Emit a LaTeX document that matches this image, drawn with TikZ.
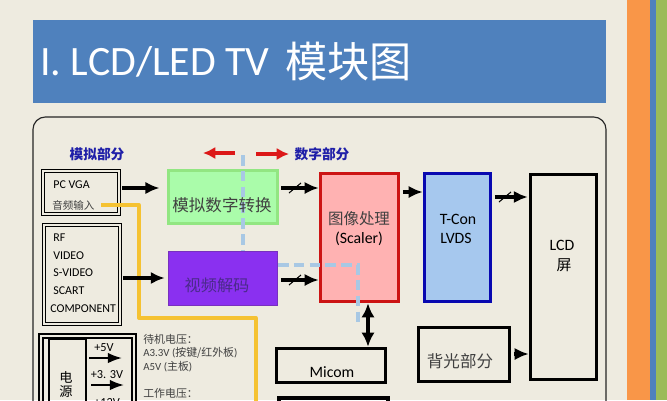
\documentclass[tikz,border=0pt]{standalone}
\usepackage{fontspec}
\setmainfont{Carlito}
\newfontfamily\cjk{Noto Sans CJK SC}
\usetikzlibrary{arrows.meta}
\definecolor{paper}{HTML}{EEEBE0}
\definecolor{band}{HTML}{4F81BD}
\definecolor{partblue}{HTML}{1F1FA8}
\definecolor{cable}{HTML}{F5C232}
\definecolor{busdash}{HTML}{A8C8E4}
\definecolor{striporange}{HTML}{F99648}
\definecolor{stripgreen}{HTML}{9BBB59}
\definecolor{adcfill}{HTML}{AAFCAA}
\definecolor{adcline}{HTML}{92E682}
\definecolor{decfill}{HTML}{8A30F0}
\definecolor{decline}{HTML}{7830BE}
\definecolor{dectext}{HTML}{4A2A8A}
\definecolor{scalerfill}{HTML}{FFB2B2}
\definecolor{scalerline}{HTML}{CC1414}
\definecolor{tconfill}{HTML}{A6C8EE}
\definecolor{tconline}{HTML}{0808B0}
\definecolor{redarrow}{HTML}{DC1818}
\tikzstyle{dblbox}=[draw, double=paper, double distance=1.1pt, line width=.85pt, inner sep=0pt]
\tikzstyle{block}=[draw, line width=2pt, inner sep=0pt]
\tikzstyle{flow} = [draw, line width=1.8pt, -{Latex[length=8pt,width=7pt]}]
\tikzstyle{slash} = [draw, line width=.6pt]
\tikzstyle{bus} = [draw, busdash, line width=1.9pt, dash pattern=on 6pt off 3pt]

\begin{document}
\begin{tikzpicture}[x=0.02cm, y=-0.02cm]
    \useasboundingbox (0,0) rectangle (667,400);
    \clip (0,0) rectangle (667,400);
    \fill[paper] (0,0) rectangle (667,400);
    % Side strips and title band
    \fill[striporange] (627,0) rectangle (650,400);
    \fill[band] (650,0) rectangle (656,400);
    \fill[stripgreen] (656,0) rectangle (667,400);
    \node[fill=band, minimum width=573*0.02cm, minimum height=83*0.02cm, inner sep=0pt] (titleband) at (319.5,61.5) {};
    \node[white, font=\fontsize{23.8}{26}\selectfont, anchor=west, inner sep=0pt] (titletext) at (40,62) {I. LCD/LED TV};
    \node[white, font=\cjk\fontsize{24}{26}\selectfont, anchor=west, inner sep=0pt] (titlecjk) at (285,62) {模块图};
    \draw[line width=.65pt, rounded corners=7pt, draw=black!85] (33,440) -- (33,117) -- (606,117) -- (606,440);

    % First we draw the boxes
    \foreach \pos/\name/\wid/\hgt in {{(81,192.5)/pcvga/76/43}, {(82,274.5)/inputs/76/99}}
        \node[dblbox, minimum width=\wid*0.02cm, minimum height=\hgt*0.02cm] (\name) at \pos {};
    \node[dblbox, double distance=1.6pt, minimum width=93*0.02cm, minimum height=98*0.02cm] (power) at (87.5,385) {};
    \node[draw, line width=.6pt, minimum width=37*0.02cm, minimum height=80*0.02cm, inner sep=0pt] (psu) at (67.5,379) {};
    \node[fill=adcfill, draw=adcline, line width=1.2pt, minimum width=109*0.02cm, minimum height=53*0.02cm, inner sep=0pt] (adc) at (223,197) {};
    \node[fill=decfill, draw=decline, line width=.8pt, minimum width=109*0.02cm, minimum height=54*0.02cm, inner sep=0pt] (decoder) at (223,278.5) {};
    \node[block, fill=scalerfill, draw=scalerline, minimum width=78*0.02cm, minimum height=128*0.02cm] (scaler) at (359.5,237.5) {};
    \node[block, fill=tconfill, draw=tconline, minimum width=66*0.02cm, minimum height=128*0.02cm] (tcon) at (457.5,237.5) {};
    \node[block, minimum width=66*0.02cm, minimum height=205*0.02cm] (lcd) at (563.5,277) {};
    \node[block, minimum width=91*0.02cm, minimum height=54*0.02cm] (backlight) at (464,354.5) {};
    \node[block, minimum width=109*0.02cm, minimum height=34*0.02cm] (micom) at (331,365.5) {};
    \node[block, minimum width=109*0.02cm, minimum height=34*0.02cm] (lowerbox) at (333.5,415) {};

    % Dashed bus and yellow audio cable
    \coordinate (busa) at (243,155);
    \coordinate (busb) at (243,251);
    \coordinate (busc) at (278,265);
    \coordinate (busd) at (358,265);
    \coordinate (buse) at (358,327);
    \path[bus] (busa) -- (busb);
    \path[bus] (busc) -- (busd) -- (buse);
    \coordinate (audio) at (101,205);
    \coordinate (cabled) at (256,420);
    \draw[cable, line width=1.9pt, line join=round] (audio) -- (139,205) -- (139,318) -- (256,318) -- (cabled);

    % Connect the boxes with arrows
    \foreach \source/\dest/\ypos/\gap in {pcvga/adc/188/4.5pt, inputs/decoder/278/1.7pt, adc/scaler/188/0pt, decoder/scaler/280/0pt, scaler/tcon/192/0pt, tcon/lcd/197/.5pt, backlight/lcd/354/0pt}
        \path[flow, shorten <=1.5pt, shorten >=\gap] (\source.east |- 0,\ypos) -- (\dest.west |- 0,\ypos);
    \path[draw, line width=1.8pt, {Latex[length=8pt,width=7.5pt]}-{Latex[length=8pt,width=7.5pt]}] (scaler.south -| 368,0) -- (micom.north -| 368,0);
    \foreach \xpos/\ypos in {295/188, 295/280, 505/197}
        \path[slash] (\xpos-6,\ypos+5) -- (\xpos+6,\ypos-5);

    % Supply rails
    \foreach \xa/\xb/\ypos in {89/122/358, 91/124/385}
        \path[draw, line width=1.2pt, -{Latex[length=8pt,width=6pt]}] (\xa,\ypos) -- (\xb,\ypos);

    % Red direction arrows
    \coordinate (redl) at (235,153);
    \coordinate (redm) at (203,153);
    \coordinate (redn) at (256,154);
    \coordinate (redo) at (289,154);
    \foreach \source/\dest in {redl/redm, redn/redo}
        \path[draw, redarrow, line width=1.8pt, -{Latex[length=7pt,width=7pt]}] (\source) -- (\dest);

    % Labels
    \foreach \pos/\name/\txt in {{(97,154)/analogtag/模拟部分}, {(322,154)/digitaltag/数字部分}}
        \node[partblue, font=\cjk\bfseries\fontsize{7.8}{8}\selectfont, inner sep=0pt] (\name) at \pos {\txt};
    \foreach \pos/\name/\txt in {{(222,205)/adctext/模拟数字转换}, {(460,361)/backtext/背光部分}}
        \node[font=\cjk\fontsize{9.4}{10}\selectfont, inner sep=0pt, text=black!75] (\name) at \pos {\txt};
    \node[font=\cjk\fontsize{9.2}{10}\selectfont, inner sep=0pt, text=dectext] (dectitle) at (217,285) {视频解码};
    \node[font=\cjk\fontsize{8.8}{10}\selectfont, inner sep=0pt, text=black!75] (scalertext) at (359,219) {图像处理};
    \foreach \pos/\name/\txt in {{(359,239)/scalerb/(Scaler)}, {(458,219)/tcontext/T-Con}, {(456,238)/lvdstext/LVDS}, {(562,245)/lcdtext/LCD}, {(332,372)/micomtext/Micom}}
        \node[font=\fontsize{9}{10}\selectfont, inner sep=0pt] (\name) at \pos {\txt};
    \node[font=\cjk\fontsize{8.5}{10}\selectfont, inner sep=0pt] (pingtext) at (564,265) {屏};
    \foreach \xpos/\ypos/\name/\txt in {53/185/pctext/PC VGA, 53/238/rftext/RF, 53/256/videotext/VIDEO, 53/273/svideotext/S-VIDEO, 53/291/scarttext/SCART, 50/309/comptext/COMPONENT}
        \node[font=\fontsize{6.8}{8}\selectfont, anchor=west, inner sep=0pt] (\name) at (\xpos,\ypos) {\txt};
    \node[font=\cjk\fontsize{6}{8}\selectfont, anchor=west, inner sep=0pt, text=black!75] (audiotext) at (52,205) {音频输入};
    \foreach \pos/\name/\txt in {{(66,377)/dian/电}, {(66,392)/yuan/源}}
        \node[font=\cjk\fontsize{7.5}{8}\selectfont, inner sep=0pt] (\name) at \pos {\txt};
    \foreach \pos/\name/\txt in {{(104,348)/fivev/+5V}, {(107,375)/threev/+3. 3V}, {(107,403)/twelvev/+12V}}
        \node[font=\fontsize{7}{8}\selectfont, inner sep=0pt] (\name) at \pos {\txt};
    \foreach \ypos/\name/\txt in {339/standby/{\cjk 待机电压：}, 353/afirst/{A3.3V ({\cjk 按键/红外板})}, 367/asecond/{A5V ({\cjk 主板})}, 393/working/{\cjk 工作电压：}}
        \node[font=\fontsize{6.2}{8}\selectfont, anchor=west, inner sep=0pt, text=black!75] (\name) at (143,\ypos) {\txt};
\end{tikzpicture}
\end{document}
